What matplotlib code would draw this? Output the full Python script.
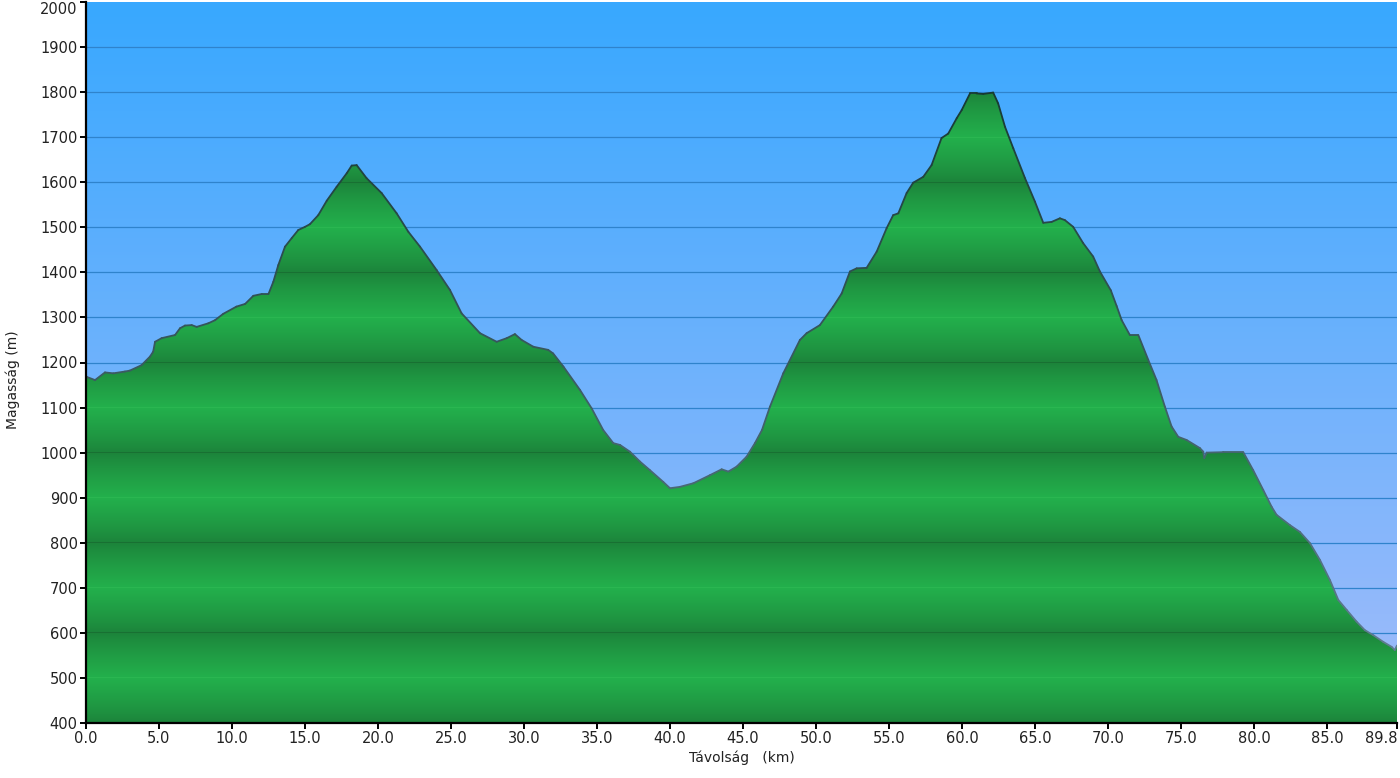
import numpy as np
import matplotlib
matplotlib.use("Agg")
import matplotlib.pyplot as plt
from matplotlib.patches import Polygon
from matplotlib.collections import LineCollection
from matplotlib.colors import to_rgb

# ---- data -------------------------------------------------------------
dist_km = [0.0, 0.05, 0.62, 1.3, 1.87, 2.67, 3.0, 3.8, 4.38, 4.6,
           4.73, 5.18, 6.1, 6.44, 6.78, 7.24, 7.58, 8.38, 8.84, 9.4,
           10.3, 10.9, 11.46, 12.03, 12.5, 12.83, 13.17, 13.63, 14.09, 14.54,
           15.0, 15.34, 15.91, 16.49, 17.17, 17.86, 18.2, 18.54, 19.22, 20.25,
           21.28, 22.08, 22.88, 24.02, 24.93, 25.73, 26.99, 28.13, 28.82, 29.38,
           29.84, 30.64, 31.66, 32.0, 32.7, 33.84, 34.64, 35.43, 36.12, 36.58,
           37.26, 37.95, 38.63, 39.54, 40.0, 40.68, 41.6, 42.74, 43.54, 44.0,
           44.57, 45.25, 45.82, 46.3, 46.85, 47.76, 48.9, 49.36, 50.27, 51.18,
           51.76, 52.33, 52.79, 53.47, 54.16, 54.84, 55.29, 55.64, 56.21, 56.66,
           57.35, 57.92, 58.6, 59.06, 59.64, 59.98, 60.55, 61.0, 61.46, 62.14,
           62.48, 62.95, 63.52, 64.32, 65.0, 65.57, 66.14, 66.71, 67.05, 67.62,
           68.3, 68.99, 69.45, 70.2, 70.6, 70.94, 71.5, 72.08, 72.76, 73.33,
           73.9, 74.36, 74.82, 75.39, 76.3, 76.53, 76.6, 76.76, 77.9, 79.27,
           79.95, 80.64, 81.21, 81.55, 82.47, 83.15, 83.84, 84.52, 85.21, 85.78,
           86.35, 87.03, 87.6, 88.17, 88.86, 89.43, 89.65, 89.8]

elev_m = [1170, 1168, 1161, 1178, 1176, 1180, 1182, 1194, 1213, 1224,
          1246, 1254, 1261, 1276, 1282, 1283, 1279, 1287, 1294, 1308,
          1324, 1330, 1348, 1352, 1352, 1379, 1416, 1457, 1476, 1494,
          1501, 1507, 1527, 1559, 1590, 1620, 1637, 1638, 1609, 1576,
          1531, 1490, 1457, 1405, 1361, 1309, 1265, 1246, 1254, 1263,
          1250, 1235, 1228, 1220, 1191, 1139, 1098, 1050, 1021, 1017,
          1002, 980, 961, 935, 921, 924, 932, 950, 963, 958,
          969, 991, 1021, 1050, 1102, 1176, 1250, 1265, 1283, 1324,
          1353, 1402, 1409, 1410, 1446, 1498, 1527, 1531, 1576, 1599,
          1612, 1638, 1698, 1708, 1742, 1760, 1797, 1797, 1796, 1799,
          1775, 1723, 1675, 1609, 1557, 1510, 1512, 1520, 1516, 1501,
          1465, 1435, 1402, 1360, 1325, 1294, 1261, 1261, 1206, 1161,
          1102, 1058, 1035, 1028, 1010, 1002, 988, 1000, 1001, 1001,
          961, 917, 880, 862, 839, 824, 799, 762, 717, 673,
          651, 625, 606, 595, 580, 569, 562, 572]

x_ticks = [0.0, 5.0, 10.0, 15.0, 20.0, 25.0, 30.0, 35.0, 40.0, 45.0,
           50.0, 55.0, 60.0, 65.0, 70.0, 75.0, 80.0, 85.0, 89.8]
y_ticks = list(range(400, 2001, 100))

x_min, x_max = 0.0, 89.8
y_min, y_max = 400, 2000

# ---- figure -------------------------------------------------------------
plt.rcParams['font.family'] = ['DejaVu Sans']
fig = plt.figure(figsize=(14, 7.78), dpi=100)
ax = fig.add_axes([86 / 1400, 55 / 778, 1311 / 1400, 721 / 778])
ax.set_xlim(x_min, x_max)
ax.set_ylim(y_min, y_max)

# background sky gradient
top = np.array(to_rgb('#38a8ff'))
bot = np.array(to_rgb('#a3bcfa'))
f = np.linspace(0, 1, 256)[:, None]
sky = (top * (1 - f) + bot * f)[:, None, :]
ax.imshow(sky, extent=[x_min, x_max, y_min, y_max], aspect='auto',
          origin='upper', interpolation='bilinear', zorder=0)

# sky gridlines
for yv in y_ticks[1:-1]:
    ax.axhline(yv, color='#2f83cc', lw=0.9, zorder=1)

# banded green terrain
yy = np.linspace(y_min, y_max, 3201)
phase = ((yy - y_min) % 200) / 200.0
t = 1 - np.abs(2 * phase - 1)          # 0 at even hundreds (dark), 1 at odd (light)
t = t ** 0.8
dark = np.array(to_rgb('#1c823a'))
light = np.array(to_rgb('#23b04c'))
cols = dark[None, :] * (1 - t[:, None]) + light[None, :] * t[:, None]
rem = (yy - y_min) % 100
near = (rem < 1.2) | (rem > 98.8)
even = ((np.round((yy - y_min) / 100)) % 2 == 0)
cols[near & even] = np.array(to_rgb('#187032'))
cols[near & ~even] = np.array(to_rgb('#2ab651'))
green = cols[::-1][:, None, :]

poly_xy = np.column_stack([[dist_km[0]] + dist_km + [dist_km[-1]],
                           [y_min] + elev_m + [y_min]])
poly = Polygon(poly_xy, closed=True, facecolor='none', edgecolor='none',
               transform=ax.transData)
ax.add_patch(poly)
im = ax.imshow(green, extent=[x_min, x_max, y_min, y_max], aspect='auto',
               origin='upper', interpolation='nearest', zorder=2)
im.set_clip_path(poly)

# outline, darker at higher elevations
pts = np.column_stack([dist_km, elev_m])
segs = np.stack([pts[:-1], pts[1:]], axis=1)
mid = (np.array(elev_m[:-1]) + np.array(elev_m[1:])) / 2
w = np.clip((mid - 550) / (1800 - 550), 0, 1)[:, None]
c_lo = np.array(to_rgb('#5f7d92'))
c_hi = np.array(to_rgb('#173a33'))
lc = LineCollection(segs, colors=c_lo * (1 - w) + c_hi * w, linewidths=1.3,
                    zorder=3, capstyle='round', joinstyle='round')
ax.add_collection(lc)

# axes styling
for s in ['top', 'right']:
    ax.spines[s].set_visible(False)
for s in ['left', 'bottom']:
    ax.spines[s].set_linewidth(1.6)
    ax.spines[s].set_color('black')
    ax.spines[s].set_zorder(5)

ax.set_xticks(x_ticks)
ax.set_xticklabels([f"{v:.1f}" for v in x_ticks])
ax.set_yticks(y_ticks)
ax.set_yticklabels([str(v) for v in y_ticks])
ax.tick_params(direction='out', length=4, width=1.4, colors='black',
               labelsize=10.5, labelcolor='#222222', pad=2)

# keep the end labels inside the canvas, as in the reference
ax.get_xticklabels()[-1].set_horizontalalignment('right')
ax.get_yticklabels()[-1].set_verticalalignment('top')

ax.set_xlabel("Távolság   (km)", fontsize=10, color='#222222', labelpad=3)
ax.set_ylabel("Magasság (m)", fontsize=10, color='#222222')
ax.yaxis.set_label_coords(-0.0505, 0.476)

fig.savefig("out.png", dpi=100, facecolor='white')
